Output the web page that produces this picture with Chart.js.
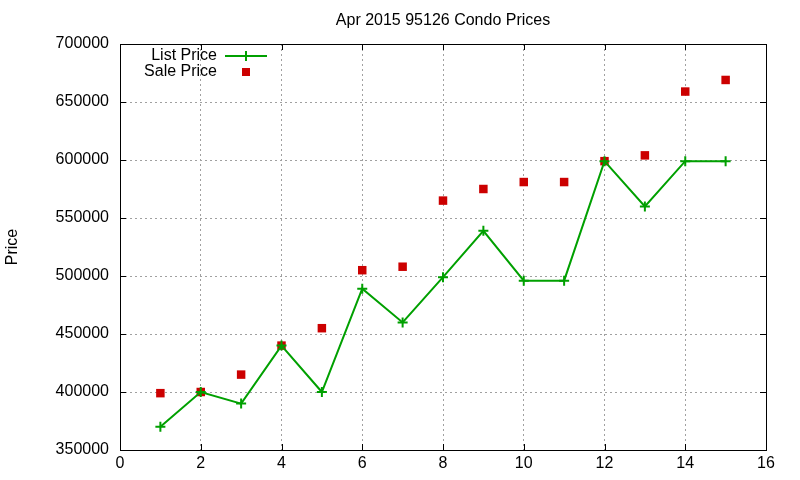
<!DOCTYPE html>
<html>
<head>
<meta charset="utf-8">
<script src="https://cdn.jsdelivr.net/npm/chart.js@4/dist/chart.umd.min.js"></script>
<style>
  html, body { margin: 0; padding: 0; background: #fff; }
  #wrap { width: 800px; height: 480px; }
</style>
</head>
<body>
<div id="wrap"><canvas id="priceChart" width="800" height="480"></canvas></div>
<script>
const months = [1, 2, 3, 4, 5, 6, 7, 8, 9, 10, 11, 12, 13, 14, 15];
const listPrice = [370000, 400000, 390000, 440000, 400000, 489000, 460000, 499000, 539000, 496000, 496000, 599000, 560000, 599000, 599000];
const salePrice = [399000, 400000, 415000, 440000, 455000, 505000, 508000, 565000, 575000, 581000, 581000, 599000, 604000, 659000, 669000];
const xTicks = [0, 2, 4, 6, 8, 10, 12, 14, 16];
const yTicks = [350000, 400000, 450000, 500000, 550000, 600000, 650000, 700000];
const chartTitle = 'Apr 2015 95126 Condo Prices';

const FONT = 'Liberation Sans, Arial, sans-serif';
const GREEN = '#00a000';
const RED = '#cc0000';

const chartCanvas = document.getElementById('priceChart');

// gnuplot style frame, inward ticks, title and key
const framePlugin = {
    id: 'frame',
    afterDatasetsDraw(chart) {
        const ctx = chart.ctx;
        const area = chart.chartArea;
        const xs = chart.scales.x;
        const ys = chart.scales.y;
        ctx.save();
        ctx.strokeStyle = '#000';
        ctx.lineWidth = 1;
        ctx.beginPath();
        xTicks.forEach(v => {
            const px = Math.round(xs.getPixelForValue(v)) + 0.5;
            ctx.moveTo(px, area.bottom); ctx.lineTo(px, area.bottom - 6);
            ctx.moveTo(px, area.top); ctx.lineTo(px, area.top + 6);
        });
        yTicks.forEach(v => {
            const py = Math.round(ys.getPixelForValue(v)) + 0.5;
            ctx.moveTo(area.left, py); ctx.lineTo(area.left + 6, py);
            ctx.moveTo(area.right, py); ctx.lineTo(area.right - 6, py);
        });
        ctx.stroke();
        ctx.strokeRect(Math.round(area.left) + 0.5, Math.round(area.top) + 0.5,
            Math.round(area.right - area.left), Math.round(area.bottom - area.top));

        // title, centred on the plot area
        ctx.font = '16px ' + FONT;
        ctx.fillStyle = '#000';
        ctx.textAlign = 'center';
        ctx.textBaseline = 'middle';
        ctx.fillText(chartTitle, (area.left + area.right) / 2, 21);

        // key
        ctx.textAlign = 'right';
        ctx.fillText('List Price', 217, 56);
        ctx.fillText('Sale Price', 217, 72);
        ctx.strokeStyle = GREEN;
        ctx.lineWidth = 2;
        ctx.beginPath();
        ctx.moveTo(225, 56); ctx.lineTo(267, 56);
        ctx.moveTo(246, 51); ctx.lineTo(246, 61);
        ctx.stroke();
        ctx.fillStyle = RED;
        ctx.fillRect(242, 68, 8, 8);
        ctx.restore();
    }
};

new Chart(chartCanvas, {
    type: 'scatter',
    data: {
        datasets: [{
            label: 'List Price',
            data: months.map((m, i) => ({ x: m, y: listPrice[i] })),
            showLine: true,
            borderColor: GREEN,
            backgroundColor: GREEN,
            borderWidth: 2,
            pointStyle: 'cross',
            pointRadius: 5,
            pointBorderWidth: 2,
            tension: 0
        }, {
            label: 'Sale Price',
            data: months.map((m, i) => ({ x: m, y: salePrice[i] })),
            showLine: false,
            borderColor: RED,
            backgroundColor: RED,
            pointStyle: 'rect',
            pointRadius: 6,
            pointBorderWidth: 0
        }]
    },
    options: {
        responsive: false,
        animation: false,
        layout: { padding: { left: 0, right: 34, top: 44, bottom: 0 } },
        plugins: {
            legend: { display: false },
            tooltip: { enabled: false },
            title: { display: false }
        },
        scales: {
            x: {
                type: 'linear',
                min: 0,
                max: 16,
                afterBuildTicks: scale => { scale.ticks = xTicks.map(v => ({ value: v })); },
                afterFit: scale => { scale.height = 30; },
                ticks: { color: '#000', font: { family: FONT, size: 16 }, padding: 4 },
                grid: { color: '#a0a0a0', drawTicks: false },
                border: { display: false, dash: [2, 3] }
            },
            y: {
                min: 350000,
                max: 700000,
                afterBuildTicks: scale => { scale.ticks = yTicks.map(v => ({ value: v })); },
                afterFit: scale => { scale.width = 120; },
                ticks: {
                    color: '#000',
                    font: { family: FONT, size: 16 },
                    padding: 11,
                    callback: v => String(v)
                },
                grid: { color: '#a0a0a0', drawTicks: false },
                border: { display: false, dash: [2, 3] },
                title: {
                    display: true,
                    text: 'Price',
                    color: '#000',
                    font: { family: FONT, size: 16 },
                    padding: { top: 3, bottom: 0 }
                }
            }
        }
    },
    plugins: [framePlugin]
});
</script>
</body>
</html>
